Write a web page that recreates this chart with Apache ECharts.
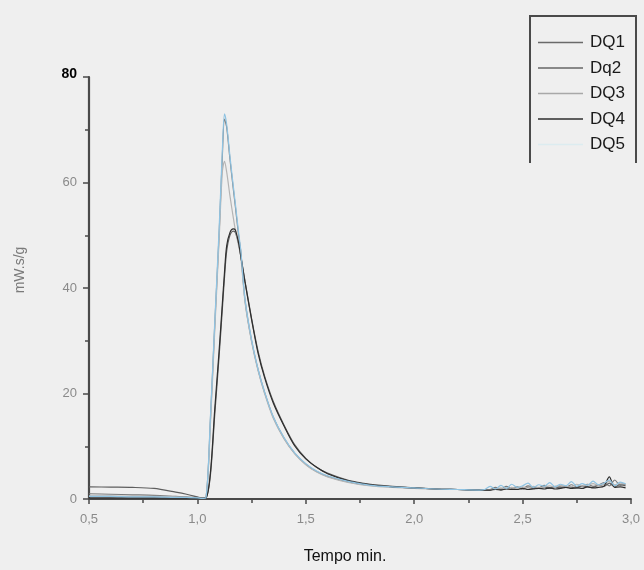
<!DOCTYPE html>
<html>
<head>
<meta charset="utf-8">
<script src="https://cdn.jsdelivr.net/npm/echarts@6/dist/echarts.min.js"></script>
<style>
  html, body { margin: 0; padding: 0; background: #efefef; }
  #chart { width: 644px; height: 570px; }
</style>
</head>
<body>
<div id="chart"></div>
<script>
// Time axis (min) shared by all five curves
const time = [
  0.5, 0.6, 0.7, 0.8, 0.9, 0.95, 1.0, 1.02, 1.04, 1.06,
  1.08, 1.10, 1.115, 1.125, 1.135, 1.15, 1.165, 1.175, 1.19, 1.20,
  1.22, 1.25, 1.28, 1.31, 1.35, 1.40, 1.45, 1.50, 1.55, 1.60,
  1.70, 1.80, 1.90, 2.00, 2.10, 2.20, 2.30,
  2.325, 2.35, 2.375, 2.40, 2.425, 2.45, 2.475, 2.50, 2.525, 2.55,
  2.575, 2.60, 2.625, 2.65, 2.675, 2.70, 2.725, 2.75, 2.775, 2.80,
  2.825, 2.85, 2.875, 2.90, 2.925, 2.95, 2.975
];

// Heat flow (mW.s/g) for each sample
const dq1 = [
  1.0, 0.9, 0.8, 0.7, 0.5, 0.4, 0.2, 0.1, 0.3, 15,
  33, 50, 65, 72, 70.5, 64.5, 59, 55.5, 50, 47,
  37.5, 30, 24.5, 20.2, 15.5, 11.5, 8.6, 6.6, 5.2, 4.3,
  3.2, 2.6, 2.3, 2.1, 1.9, 1.8, 1.7,
  1.7, 1.8, 2.2, 1.9, 2.4, 2.0, 2.3, 2.0, 2.5, 2.2,
  2.1, 2.6, 2.1, 2.4, 2.3, 2.2, 2.7, 2.3, 2.5, 2.8,
  2.4, 2.6, 3.1, 2.5, 3.6, 2.6, 2.8
];
const dq2 = [
  2.3, 2.25, 2.2, 2.0, 1.3, 0.9, 0.4, 0.2, 0.3, 4.5,
  16, 27, 36, 42, 47, 50, 50.8, 50.5, 48.5, 46.2,
  41.2, 34.2, 28, 23.3, 18.5, 14, 10.2, 7.7, 6.0, 4.9,
  3.5, 2.8, 2.4, 2.1, 1.9, 1.8, 1.7,
  1.7, 1.7, 1.9, 1.8, 2.0, 1.8, 2.1, 1.9, 2.2, 2.0,
  2.1, 2.3, 2.0, 2.2, 2.1, 2.4, 2.2, 2.1, 2.5, 2.3,
  2.2, 2.6, 2.4, 3.0, 2.3, 2.7, 2.5
];
const dq3 = [
  0.6, 0.6, 0.5, 0.5, 0.4, 0.3, 0.2, 0.1, 0.3, 14,
  32, 49, 62, 64, 62, 57.5, 53.5, 51, 48, 46,
  37.2, 29.8, 24.3, 20, 15.3, 11.4, 8.5, 6.5, 5.1, 4.2,
  3.1, 2.5, 2.2, 2.0, 1.9, 1.8, 1.7,
  1.7, 1.8, 1.9, 2.1, 1.9, 2.2, 2.0, 2.3, 2.1, 2.4,
  2.2, 2.3, 2.5, 2.2, 2.6, 2.4, 2.3, 2.8, 2.5, 2.7,
  2.9, 2.6, 2.8, 3.4, 2.7, 3.0, 2.8
];
const dq4 = [
  0.2, 0.2, 0.2, 0.2, 0.2, 0.2, 0.1, 0.1, 0.2, 5,
  17, 28, 37, 43, 48, 50.5, 51.2, 51, 48.5, 46,
  41, 34, 27.6, 23, 18.2, 13.8, 10, 7.6, 6.0, 4.8,
  3.4, 2.7, 2.3, 2.1, 1.9, 1.8, 1.7,
  1.7, 1.7, 1.8, 1.7, 1.9, 1.8, 1.8, 2.0, 1.8, 1.9,
  2.0, 1.9, 2.1, 1.9, 2.0, 2.2, 2.0, 2.1, 2.0, 2.3,
  2.1, 2.2, 2.4, 4.2, 2.2, 2.3, 2.1
];
const dq5 = [
  0.5, 0.5, 0.4, 0.4, 0.3, 0.3, 0.2, 0.1, 0.3, 15.5,
  33.5, 51, 66, 73, 71, 65, 59.5, 56, 50.5, 47.2,
  37.8, 30.2, 24.6, 20.3, 15.6, 11.6, 8.7, 6.7, 5.3, 4.4,
  3.3, 2.6, 2.3, 2.1, 1.9, 1.8, 1.7,
  1.8, 2.4, 1.9, 2.6, 2.0, 2.8, 2.2, 2.5, 3.0, 2.2,
  2.7, 2.4, 3.1, 2.3, 2.8, 2.5, 3.3, 2.4, 2.9, 2.6,
  3.4, 2.7, 3.0, 3.6, 2.5, 3.2, 2.9
];

const seriesNames = ['DQ1', 'Dq2', 'DQ3', 'DQ4', 'DQ5'];
const seriesValues = [dq1, dq2, dq3, dq4, dq5];
const seriesColors = ['#7a7a7a', '#5e5e5e', '#b4b4b4', '#2e2e2e', '#8fc3e2'];
const legendIconColors = ['#6a6a6a', '#666666', '#a8a8a8', '#2e2e2e', '#dcecf0'];

const xTicks = { min: 0.5, max: 3.0, step: 0.5 };
const yTicks = { min: 0, max: 80, step: 20 };

const pairs = vals => vals.map((v, i) => [time[i], v]);

const chart = echarts.init(document.getElementById('chart'), null, { renderer: 'canvas' });

chart.setOption({
  backgroundColor: '#efefef',
  animation: false,
  textStyle: { fontFamily: 'Liberation Sans, Arial, sans-serif' },
  grid: { left: 89, right: 13, top: 77, bottom: 67 },
  legend: {
    orient: 'vertical',
    left: 538,
    top: 34,
    padding: 0,
    itemWidth: 45,
    itemHeight: 14,
    itemGap: 8.5,
    textStyle: { fontSize: 17, color: '#1a1a1a', fontFamily: 'Liberation Sans, Arial, sans-serif', padding: [0, 0, 0, 2] },
    data: seriesNames.map((n, i) => ({
      name: n,
      icon: 'path://M0,0 L45,0 L45,1.3 L0,1.3 Z',
      itemStyle: { color: legendIconColors[i] }
    }))
  },
  graphic: [{
    type: 'polyline',
    shape: { points: [[530, 163], [530, 16], [636, 16], [636, 163]] },
    style: { stroke: '#4a4a4a', lineWidth: 2, fill: null }
  }],
  xAxis: {
    type: 'value',
    min: xTicks.min,
    max: xTicks.max,
    interval: xTicks.step,
    name: 'Tempo min.',
    nameLocation: 'middle',
    nameGap: 50,
    nameTextStyle: { fontSize: 16, color: '#111', padding: [0, 30, 0, 0] },
    axisLine: { lineStyle: { color: '#4a4a4a', width: 1.8 } },
    axisTick: { show: true, length: 5, lineStyle: { color: '#4a4a4a', width: 1.5 } },
    minorTick: { show: true, splitNumber: 2, length: 4, lineStyle: { color: '#4a4a4a', width: 1.5 } },
    axisLabel: {
      color: '#8a8a8a', fontSize: 13, margin: 14,
      formatter: v => v.toFixed(1).replace('.', ',')
    },
    splitLine: { show: false }
  },
  yAxis: {
    type: 'value',
    min: yTicks.min,
    max: yTicks.max,
    interval: yTicks.step,
    name: 'mW.s/g',
    nameLocation: 'middle',
    nameRotate: 90,
    nameGap: 62,
    nameTextStyle: { fontSize: 14, color: '#7a7a7a', padding: [0, 0, 0, 36] },
    axisLine: { lineStyle: { color: '#4a4a4a', width: 2.2 } },
    axisTick: { show: true, length: 6, lineStyle: { color: '#4a4a4a', width: 1.5 } },
    minorTick: { show: true, splitNumber: 2, length: 4, lineStyle: { color: '#4a4a4a', width: 1.5 } },
    axisLabel: {
      color: '#8a8a8a', fontSize: 13, margin: 12,
      formatter: v => v === yTicks.max ? '{top|' + v + '}' : String(v),
      rich: { top: { fontSize: 14, fontWeight: 'bold', color: '#000', padding: [0, 0, 6, 0] } }
    },
    splitLine: { show: false }
  },
  series: seriesNames.map((n, i) => ({
    name: n,
    type: 'line',
    data: pairs(seriesValues[i]),
    symbol: 'none',
    smooth: 0.3,
    lineStyle: { color: seriesColors[i], width: 1.2 },
    itemStyle: { color: seriesColors[i] },
    z: 2 + i
  }))
});
</script>
</body>
</html>
